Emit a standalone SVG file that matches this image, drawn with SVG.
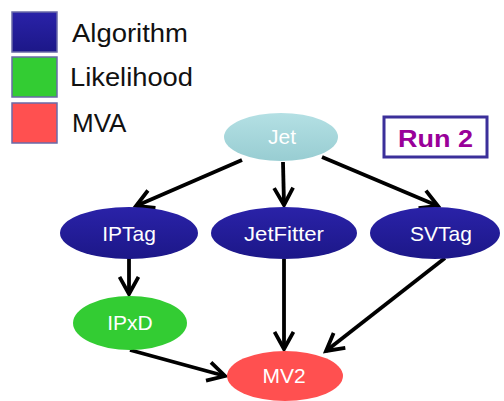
<svg xmlns="http://www.w3.org/2000/svg" width="504" height="401" viewBox="0 0 504 401">
  <defs>
    <linearGradient id="gBlue" x1="0" y1="0" x2="0" y2="1">
      <stop offset="0" stop-color="#2a22a8"/>
      <stop offset="1" stop-color="#1c1788"/>
    </linearGradient>
    <linearGradient id="gJet" x1="0" y1="0" x2="0" y2="1">
      <stop offset="0" stop-color="#b4e0e4"/>
      <stop offset="1" stop-color="#98cdd2"/>
    </linearGradient>
    <marker id="arr" viewBox="0 0 12 12" refX="10" refY="6" markerWidth="6" markerHeight="6" markerUnits="strokeWidth" orient="auto">
      <path d="M1,1 L10,6 L1,11" fill="none" stroke="#000" stroke-width="2" stroke-linejoin="miter"/>
    </marker>
  </defs>
  <style>
    .legend-box { stroke: #6a6aa8; stroke-width: 1.5; }
    .legend-text { font-family: "Liberation Sans", Arial, sans-serif; font-size: 26px; fill: #111; }
    .node-text { font-family: "Liberation Sans", Arial, sans-serif; font-size: 21px; fill: #fff; text-anchor: middle; }
    .edge { stroke: #000; stroke-width: 3.8; fill: none; marker-end: url(#arr); }
  </style>
  <rect width="504" height="401" fill="#fff"/>

  <!-- legend -->
  <g id="legend">
    <rect class="legend-box" x="12" y="12" width="45" height="40" fill="url(#gBlue)"/>
    <text class="legend-text" x="72" y="42" textLength="116" lengthAdjust="spacingAndGlyphs">Algorithm</text>
    <rect class="legend-box" x="12" y="57" width="45" height="40" fill="#33cc33"/>
    <text class="legend-text" x="70" y="86" textLength="123" lengthAdjust="spacingAndGlyphs">Likelihood</text>
    <rect class="legend-box" x="12" y="103" width="45" height="40" fill="#ff5050"/>
    <text class="legend-text" x="72" y="132">MVA</text>
  </g>

  <g id="run2">
    <rect x="384" y="117" width="103" height="40" fill="#fff" stroke="#3b2f9a" stroke-width="3"/>
    <text x="398" y="147" textLength="75" lengthAdjust="spacingAndGlyphs" font-family="Liberation Sans, Arial, sans-serif" font-size="23" font-weight="bold" fill="#990099">Run 2</text>
  </g>

  <!-- connectors -->
  <g id="edges">
    <path class="edge" d="M242,160 L136,206"/>
    <path class="edge" d="M283,162 L284,205"/>
    <path class="edge" d="M322,157 L438,206"/>
    <path class="edge" d="M129,258 L129,294"/>
    <path class="edge" d="M284,259 L284,349"/>
    <path class="edge" d="M445,258 L326,351"/>
    <path class="edge" d="M130,350 L225,376"/>
  </g>

  <!-- nodes -->
  <g id="jet">
    <ellipse cx="281" cy="137" rx="57" ry="24" fill="url(#gJet)"/>
    <text class="node-text" x="282" y="144">Jet</text>
  </g>
  <g id="iptag">
    <ellipse cx="129" cy="233" rx="69" ry="26" fill="url(#gBlue)"/>
    <text class="node-text" x="129" y="241">IPTag</text>
  </g>
  <g id="jetfitter">
    <ellipse cx="284" cy="233" rx="73" ry="26" fill="url(#gBlue)"/>
    <text class="node-text" x="284" y="241" textLength="80" lengthAdjust="spacingAndGlyphs">JetFitter</text>
  </g>
  <g id="svtag">
    <ellipse cx="435" cy="233" rx="65" ry="26" fill="url(#gBlue)"/>
    <text class="node-text" x="441" y="241">SVTag</text>
  </g>
  <g id="ipxd">
    <ellipse cx="130" cy="323" rx="57" ry="27" fill="#33cc33"/>
    <text class="node-text" x="130" y="330">IPxD</text>
  </g>
  <g id="mv2">
    <ellipse cx="285" cy="376" rx="58" ry="25" fill="#ff5050"/>
    <text class="node-text" x="284" y="383">MV2</text>
  </g>
</svg>
